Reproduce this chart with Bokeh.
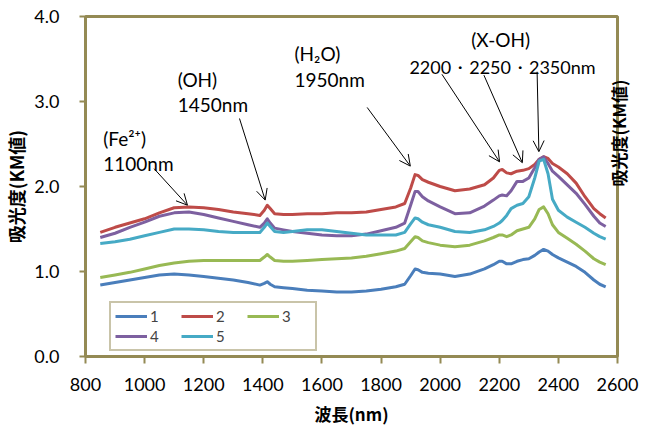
import math
from bokeh.plotting import figure
from bokeh.models import (Range1d, Legend, LegendItem, Label, Arrow, OpenHead,
                          FixedTicker, PrintfTickFormatter, LinearAxis)
from bokeh.embed import file_html
from bokeh.resources import INLINE

# ---------------- data ----------------
wavelength = [850, 900, 950, 1000, 1050, 1100, 1150, 1200, 1250, 1300, 1350, 1390,
              1405, 1415, 1425, 1440, 1470, 1500, 1550, 1600, 1650, 1700, 1750, 1800,
              1850, 1880, 1900, 1915, 1925, 1940, 1960, 2000, 2050, 2100, 2150, 2180,
              2200, 2210, 2225, 2240, 2260, 2280, 2300, 2320, 2335, 2350, 2365, 2380,
              2400, 2430, 2460, 2490, 2520, 2540, 2560]

s1 = [0.84, 0.87, 0.90, 0.93, 0.96, 0.97, 0.96, 0.94, 0.92, 0.90, 0.87, 0.84,
      0.86, 0.88, 0.85, 0.82, 0.81, 0.80, 0.78, 0.77, 0.76, 0.76, 0.77, 0.79,
      0.82, 0.85, 0.95, 1.03, 1.02, 0.99, 0.98, 0.97, 0.94, 0.97, 1.03, 1.08,
      1.12, 1.12, 1.09, 1.09, 1.12, 1.14, 1.15, 1.19, 1.23, 1.26, 1.24, 1.20,
      1.16, 1.11, 1.06, 0.99, 0.90, 0.85, 0.82]
s2 = [1.46, 1.52, 1.57, 1.62, 1.69, 1.75, 1.76, 1.75, 1.73, 1.70, 1.68, 1.66,
      1.72, 1.78, 1.74, 1.68, 1.67, 1.67, 1.68, 1.68, 1.69, 1.69, 1.70, 1.73,
      1.76, 1.80, 1.98, 2.14, 2.13, 2.08, 2.05, 2.00, 1.95, 1.97, 2.02, 2.10,
      2.19, 2.20, 2.16, 2.15, 2.18, 2.19, 2.21, 2.26, 2.32, 2.35, 2.33, 2.27,
      2.23, 2.15, 2.04, 1.88, 1.74, 1.68, 1.63]
s3 = [0.93, 0.96, 0.99, 1.03, 1.07, 1.10, 1.12, 1.13, 1.13, 1.13, 1.13, 1.13,
      1.17, 1.20, 1.17, 1.13, 1.12, 1.12, 1.13, 1.14, 1.15, 1.16, 1.18, 1.21,
      1.24, 1.27, 1.35, 1.41, 1.40, 1.36, 1.34, 1.31, 1.29, 1.31, 1.36, 1.40,
      1.43, 1.43, 1.41, 1.43, 1.48, 1.50, 1.52, 1.62, 1.73, 1.76, 1.68, 1.55,
      1.46, 1.39, 1.32, 1.24, 1.15, 1.11, 1.08]
s4 = [1.40, 1.45, 1.52, 1.58, 1.65, 1.69, 1.70, 1.67, 1.63, 1.59, 1.55, 1.52,
      1.57, 1.62, 1.57, 1.51, 1.49, 1.47, 1.45, 1.43, 1.42, 1.42, 1.44, 1.48,
      1.52, 1.57, 1.78, 1.94, 1.94, 1.88, 1.83, 1.76, 1.68, 1.69, 1.77, 1.84,
      1.89, 1.90, 1.89, 1.95, 2.06, 2.06, 2.10, 2.22, 2.32, 2.35, 2.27, 2.18,
      2.12, 2.02, 1.92, 1.79, 1.65, 1.57, 1.53]
s5 = [1.33, 1.35, 1.38, 1.42, 1.46, 1.50, 1.50, 1.49, 1.47, 1.46, 1.46, 1.46,
      1.52, 1.57, 1.53, 1.47, 1.46, 1.47, 1.49, 1.49, 1.47, 1.45, 1.43, 1.43,
      1.43, 1.46, 1.56, 1.63, 1.62, 1.58, 1.55, 1.52, 1.47, 1.46, 1.49, 1.53,
      1.57, 1.60, 1.66, 1.74, 1.78, 1.80, 1.88, 2.10, 2.30, 2.32, 2.15, 1.85,
      1.72, 1.64, 1.58, 1.52, 1.45, 1.41, 1.38]

series = [s1, s2, s3, s4, s5]
series_names = ["1", "2", "3", "4", "5"]
series_colors = ["#4A7EBB", "#BE4B48", "#98B954", "#7D60A0", "#46AAC5"]

x_ticks = [800, 1000, 1200, 1400, 1600, 1800, 2000, 2200, 2400, 2600]
y_ticks = [0, 1, 2, 3, 4]

x_title = "波長(nm)"
y_title = "吸光度(KM値)"

# annotation texts (x, y in data units)
ann_texts = ["(Fe²⁺)", "1100nm", "(OH)", "1450nm", "(H₂O)", "1950nm",
             "(X-OH)", "2200・2250・2350nm"]
ann_x = [860, 860, 1112, 1112, 1507, 1507, 2105, 1896]
ann_y = [2.56, 2.27, 3.26, 2.96, 3.57, 3.26, 3.73, 3.41]
ann_size = ["19px", "19px", "19px", "19px", "19px", "19px", "19px", "18px"]

# arrows (start -> end, data units)
arr_x0 = [1032, 1321, 1753, 2006, 2148, 2328]
arr_y0 = [2.21, 2.80, 2.93, 3.32, 3.31, 3.35]
arr_x1 = [1145, 1408, 1899, 2201, 2278, 2334]
arr_y1 = [1.78, 1.84, 2.24, 2.29, 2.28, 2.41]

OLIVE = "#948A54"
TXT_FONT = "Lato"
CJK_FONT = "Noto Sans CJK JP"

p = figure(width=646, height=430, output_backend="svg", toolbar_location=None,
           x_range=Range1d(800, 2600), y_range=Range1d(0, 4),
           min_border_left=85, min_border_right=23, min_border_top=16,
           min_border_bottom=74)

p.background_fill_color = "white"
p.border_fill_color = "white"
p.outline_line_color = OLIVE
p.outline_line_width = 3
p.outline_line_alpha = 1.0
p.xgrid.visible = False
p.ygrid.visible = False

p.xaxis.ticker = FixedTicker(ticks=x_ticks)
p.yaxis.ticker = FixedTicker(ticks=y_ticks)
p.yaxis.formatter = PrintfTickFormatter(format="%.1f")

for ax in (p.xaxis[0], p.yaxis[0]):
    ax.axis_line_color = OLIVE
    ax.axis_line_width = 3
    ax.major_tick_line_color = OLIVE
    ax.major_tick_line_width = 2
    ax.major_tick_in = 0
    ax.minor_tick_line_color = None
    ax.major_label_text_font = TXT_FONT
    ax.major_label_text_font_size = "18px"
    ax.major_label_text_color = "black"
    ax.axis_label_text_font = CJK_FONT
    ax.axis_label_text_font_style = "bold"
    ax.axis_label_text_color = "black"

p.xaxis.major_tick_out = 7
p.yaxis.major_tick_out = 6
p.xaxis.major_label_standoff = 14
p.yaxis.major_label_standoff = 20
p.xaxis.axis_label = x_title
p.yaxis.axis_label = y_title
p.xaxis.axis_label_text_font_size = "17px"
p.yaxis.axis_label_text_font_size = "18px"
p.xaxis.axis_label_standoff = 7
p.yaxis.axis_label_standoff = 2

# secondary (right) axis: only its title is shown
right_axis = LinearAxis(ticker=FixedTicker(ticks=[]), axis_line_color=None,
                        major_tick_line_color=None, minor_tick_line_color=None,
                        major_tick_out=0, major_label_standoff=0,
                        axis_label=y_title, axis_label_standoff=1,
                        axis_label_orientation=math.pi / 2,
                        axis_label_text_font=CJK_FONT, axis_label_text_font_size="17px",
                        axis_label_text_font_style="bold", axis_label_text_color="black")
p.add_layout(right_axis, "right")

renderers = []
for ys, c in zip(series, series_colors):
    r = p.line(wavelength, ys, line_color=c, line_width=3, line_join="round")
    renderers.append(r)

legend = Legend(items=[LegendItem(label=n, renderers=[r]) for n, r in zip(series_names, renderers)],
                location=(24, 5), orientation="horizontal", ncols=3,
                border_line_color=OLIVE, border_line_width=2,
                label_text_font=TXT_FONT, label_text_font_size="15px",
                glyph_width=32, glyph_height=14, label_standoff=3, label_width=29,
                spacing=2, padding=4, margin=0, background_fill_color="white",
                background_fill_alpha=1.0)
p.add_layout(legend)

for t, x, y, fs in zip(ann_texts, ann_x, ann_y, ann_size):
    p.add_layout(Label(x=x, y=y, text=t, text_font=TXT_FONT, text_font_size=fs,
                       text_color="black", text_baseline="alphabetic", text_align="left"))

for x0, y0, x1, y1 in zip(arr_x0, arr_y0, arr_x1, arr_y1):
    p.add_layout(Arrow(end=OpenHead(size=11, line_width=1, line_color="black"),
                       x_start=x0, y_start=y0, x_end=x1, y_end=y1,
                       line_color="black", line_width=1))

open("out.html", "w").write(file_html(p, INLINE))
